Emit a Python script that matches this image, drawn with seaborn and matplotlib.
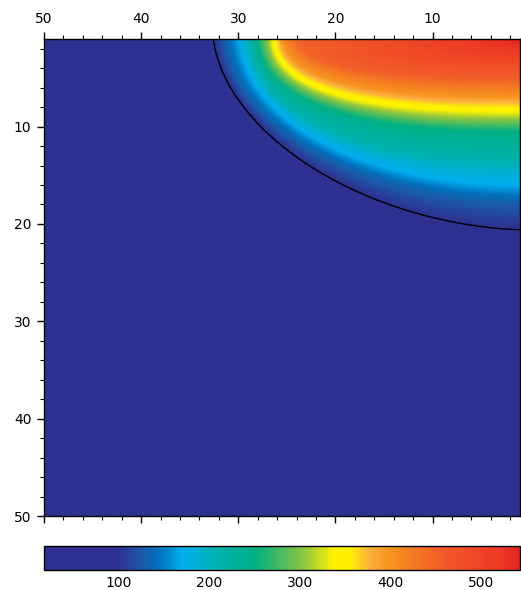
import numpy as np
import matplotlib
matplotlib.use("Agg")
import matplotlib.pyplot as plt
from matplotlib.colors import LinearSegmentedColormap, Normalize
from matplotlib.ticker import MultipleLocator
import seaborn as sns

# iso-levels: value, where the level crosses the top edge (x),
# where it crosses the right edge (y), and how square the iso-line is
levels = [18, 60, 100, 130, 170, 210, 250, 300, 345, 400, 450, 480, 510, 540]
x_edge = [70.0, 42.0, 32.6, 31.5, 29.9, 28.9, 28.1, 27.1, 26.4, 25.5, 24.0, 17.0, 9.0, 3.0]
y_edge = [70.0, 30.0, 20.6, 17.9, 16.1, 13.6, 10.6, 9.4, 8.4, 7.0, 5.3, 3.9, 2.7, 1.3]
squareness = [2.0, 1.9, 1.85, 2.0, 2.1, 2.3, 2.5, 2.6, 2.7, 2.7, 2.7, 2.8, 2.8, 2.8]

contour_level = 100
value_range = (18, 543)
cbar_ticks = [100, 200, 300, 400, 500]
axis_ticks = [10, 20, 30, 40, 50]

# colour scale stops
cmap_values = [18, 100, 125, 145, 170, 205, 250, 305, 338, 355, 378, 400, 460, 520, 543]
cmap_colors = ["#2E3192", "#2E3192", "#1B5AA9", "#0072BC", "#00AEEF", "#00B2B5",
               "#00B084", "#8DC63F", "#FFF200", "#FFF200", "#FBB040", "#F7941D",
               "#F15A29", "#EE3A24", "#E52521"]

sns.set_style("ticks")
plt.rcParams["font.family"] = ["DejaVu Sans"]
plt.rcParams["font.size"] = 10

# build the field on a fine grid from the iso-level table
grid = np.linspace(1, 50, 400)
X, Y = np.meshgrid(grid, grid)
H = np.array([np.log((X / a) ** p + (Y / b) ** p)
              for a, b, p in zip(x_edge, y_edge, squareness)])
Z = np.full(X.shape, float(levels[0]))
for k in range(len(levels) - 1):
    h0, h1 = H[k], H[k + 1]
    m = (h0 <= 0) & (h1 > 0)
    t = -h0[m] / (h1[m] - h0[m])
    Z[m] = levels[k] + t * (levels[k + 1] - levels[k])
Z[H[-1] <= 0] = levels[-1]

lo, hi = value_range
cmap = LinearSegmentedColormap.from_list(
    "bands", [((v - lo) / (hi - lo), c) for v, c in zip(cmap_values, cmap_colors)])
norm = Normalize(vmin=lo, vmax=hi)

fig = plt.figure(figsize=(5.21, 5.90), dpi=100)
ax = fig.add_axes([0.0845, 0.1254, 0.9135, 0.8085])
cax = fig.add_axes([0.0845, 0.0339, 0.9135, 0.0407])

im = ax.imshow(Z, extent=(1, 50, 1, 50), origin="lower", cmap=cmap, norm=norm,
               interpolation="bilinear", aspect="auto")
ax.contour(X, Y, Z, levels=[contour_level], colors="black", linewidths=1.0)

ax.set_xlim(50, 1)
ax.set_ylim(50, 1)
ax.set_xticks(axis_ticks)
ax.set_yticks(axis_ticks)
ax.xaxis.set_minor_locator(MultipleLocator(2))
ax.yaxis.set_minor_locator(MultipleLocator(2))
ax.tick_params(axis="x", which="both", top=True, bottom=True,
               labeltop=True, labelbottom=False, direction="out")
ax.tick_params(axis="y", which="both", left=True, right=False, direction="out")
ax.tick_params(which="major", length=5, width=1, colors="black", pad=4)
ax.tick_params(which="minor", length=3, width=0.8, colors="black")
for s in ax.spines.values():
    s.set_visible(True)
    s.set_color("black")
    s.set_linewidth(1.0)

cb = fig.colorbar(im, cax=cax, orientation="horizontal", ticks=cbar_ticks)
cb.outline.set_edgecolor("black")
cb.outline.set_linewidth(1.0)
cax.xaxis.set_minor_locator(MultipleLocator(20))
cax.tick_params(which="both", direction="in", top=True, bottom=True, colors="black")
cax.tick_params(which="major", length=6, width=0.8, pad=4)
cax.tick_params(which="minor", length=3, width=0.8)

fig.savefig("out.png", dpi=100)
